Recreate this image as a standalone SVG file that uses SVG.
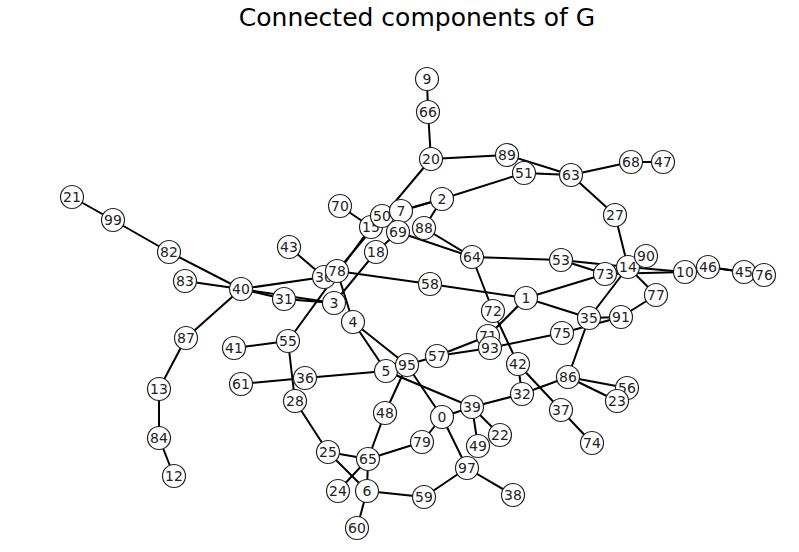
<svg xmlns="http://www.w3.org/2000/svg" width="799" height="552" viewBox="0 0 799 552">
<style>
.e line{stroke:#000;stroke-width:2;stroke-linecap:round}
.n text{font-family:"DejaVu Sans",sans-serif;font-size:14px;fill:#222;text-anchor:middle;dominant-baseline:central}
.t{font-family:"DejaVu Sans",sans-serif;font-size:25px;fill:#000;text-anchor:middle}
</style>
<rect width="799" height="552" fill="#fff"/>
<text class="t" x="417" y="26">Connected components of G</text>
<defs>
<circle id="c" r="11.5" fill="#fff" stroke="#222" stroke-width="1.2"/>
</defs>
<g id="edges" class="e">
<line x1="427" y1="79" x2="428" y2="112"/>
<line x1="428" y1="112" x2="431" y2="159"/>
<line x1="431" y1="159" x2="507" y2="155"/>
<line x1="507" y1="155" x2="571" y2="175"/>
<line x1="524" y1="173" x2="571" y2="175"/>
<line x1="524" y1="173" x2="442" y2="199"/>
<line x1="571" y1="175" x2="631" y2="162"/>
<line x1="631" y1="162" x2="663" y2="162"/>
<line x1="571" y1="175" x2="615" y2="215"/>
<line x1="615" y1="215" x2="628" y2="267"/>
<line x1="431" y1="159" x2="337" y2="271"/>
<line x1="382" y1="216" x2="442" y2="199"/>
<line x1="401" y1="211" x2="442" y2="199"/>
<line x1="442" y1="199" x2="424" y2="228"/>
<line x1="398" y1="232" x2="472" y2="257"/>
<line x1="424" y1="228" x2="472" y2="257"/>
<line x1="340" y1="206" x2="371" y2="227"/>
<line x1="288" y1="341" x2="371" y2="227"/>
<line x1="376" y1="252" x2="398" y2="232"/>
<line x1="376" y1="252" x2="334" y2="303"/>
<line x1="289" y1="247" x2="324" y2="277"/>
<line x1="241" y1="289" x2="324" y2="277"/>
<line x1="241" y1="289" x2="284" y2="299"/>
<line x1="284" y1="299" x2="334" y2="303"/>
<line x1="241" y1="289" x2="334" y2="303"/>
<line x1="72" y1="197" x2="113" y2="220"/>
<line x1="113" y1="220" x2="169" y2="252"/>
<line x1="169" y1="252" x2="241" y2="289"/>
<line x1="185" y1="281" x2="241" y2="289"/>
<line x1="241" y1="289" x2="186" y2="338"/>
<line x1="186" y1="338" x2="159" y2="389"/>
<line x1="159" y1="389" x2="159" y2="438"/>
<line x1="159" y1="438" x2="174" y2="476"/>
<line x1="337" y1="271" x2="353" y2="322"/>
<line x1="337" y1="271" x2="430" y2="284"/>
<line x1="430" y1="284" x2="526" y2="298"/>
<line x1="472" y1="257" x2="561" y2="260"/>
<line x1="472" y1="257" x2="493" y2="311"/>
<line x1="493" y1="311" x2="518" y2="364"/>
<line x1="526" y1="298" x2="488" y2="336"/>
<line x1="526" y1="298" x2="605" y2="274"/>
<line x1="526" y1="298" x2="589" y2="318"/>
<line x1="561" y1="260" x2="605" y2="274"/>
<line x1="561" y1="260" x2="628" y2="267"/>
<line x1="605" y1="274" x2="628" y2="267"/>
<line x1="646" y1="256" x2="628" y2="267"/>
<line x1="628" y1="267" x2="685" y2="272"/>
<line x1="605" y1="274" x2="685" y2="272"/>
<line x1="708" y1="267" x2="744" y2="272"/>
<line x1="708" y1="267" x2="764" y2="275"/>
<line x1="628" y1="267" x2="656" y2="295"/>
<line x1="628" y1="267" x2="589" y2="318"/>
<line x1="656" y1="295" x2="621" y2="317"/>
<line x1="589" y1="318" x2="621" y2="317"/>
<line x1="562" y1="333" x2="621" y2="317"/>
<line x1="490" y1="348" x2="562" y2="333"/>
<line x1="437" y1="356" x2="488" y2="336"/>
<line x1="437" y1="356" x2="490" y2="348"/>
<line x1="407" y1="365" x2="437" y2="356"/>
<line x1="353" y1="322" x2="386" y2="371"/>
<line x1="353" y1="322" x2="407" y2="365"/>
<line x1="386" y1="371" x2="305" y2="378"/>
<line x1="386" y1="371" x2="472" y2="407"/>
<line x1="407" y1="365" x2="442" y2="417"/>
<line x1="407" y1="365" x2="385" y2="413"/>
<line x1="385" y1="413" x2="368" y2="459"/>
<line x1="442" y1="417" x2="472" y2="407"/>
<line x1="442" y1="417" x2="422" y2="442"/>
<line x1="442" y1="417" x2="467" y2="468"/>
<line x1="472" y1="407" x2="522" y2="394"/>
<line x1="472" y1="407" x2="478" y2="446"/>
<line x1="472" y1="407" x2="500" y2="435"/>
<line x1="522" y1="394" x2="568" y2="377"/>
<line x1="518" y1="364" x2="522" y2="394"/>
<line x1="518" y1="364" x2="561" y2="410"/>
<line x1="561" y1="410" x2="592" y2="443"/>
<line x1="589" y1="318" x2="568" y2="377"/>
<line x1="568" y1="377" x2="627" y2="388"/>
<line x1="568" y1="377" x2="617" y2="401"/>
<line x1="234" y1="348" x2="288" y2="341"/>
<line x1="288" y1="341" x2="295" y2="401"/>
<line x1="241" y1="384" x2="305" y2="378"/>
<line x1="295" y1="401" x2="328" y2="452"/>
<line x1="328" y1="452" x2="368" y2="459"/>
<line x1="328" y1="452" x2="367" y2="491"/>
<line x1="338" y1="491" x2="368" y2="459"/>
<line x1="368" y1="459" x2="367" y2="491"/>
<line x1="368" y1="459" x2="422" y2="442"/>
<line x1="367" y1="491" x2="357" y2="528"/>
<line x1="367" y1="491" x2="424" y2="497"/>
<line x1="424" y1="497" x2="467" y2="468"/>
<line x1="467" y1="468" x2="513" y2="495"/>
</g>
<g class="n">
<g id="n9" transform="translate(427,79)"><use href="#c"/><text>9</text></g>
<g id="n66" transform="translate(428,112)"><use href="#c"/><text>66</text></g>
<g id="n20" transform="translate(431,159)"><use href="#c"/><text>20</text></g>
<g id="n89" transform="translate(507,155)"><use href="#c"/><text>89</text></g>
<g id="n51" transform="translate(524,173)"><use href="#c"/><text>51</text></g>
<g id="n63" transform="translate(571,175)"><use href="#c"/><text>63</text></g>
<g id="n68" transform="translate(631,162)"><use href="#c"/><text>68</text></g>
<g id="n47" transform="translate(663,162)"><use href="#c"/><text>47</text></g>
<g id="n27" transform="translate(615,215)"><use href="#c"/><text>27</text></g>
<g id="n2" transform="translate(442,199)"><use href="#c"/><text>2</text></g>
<g id="n70" transform="translate(340,206)"><use href="#c"/><text>70</text></g>
<g id="n15" transform="translate(371,227)"><use href="#c"/><text>15</text></g>
<g id="n50" transform="translate(382,216)"><use href="#c"/><text>50</text></g>
<g id="n7" transform="translate(401,211)"><use href="#c"/><text>7</text></g>
<g id="n69" transform="translate(398,232)"><use href="#c"/><text>69</text></g>
<g id="n88" transform="translate(424,228)"><use href="#c"/><text>88</text></g>
<g id="n18" transform="translate(376,252)"><use href="#c"/><text>18</text></g>
<g id="n43" transform="translate(289,247)"><use href="#c"/><text>43</text></g>
<g id="n30" transform="translate(324,277)"><use href="#c"/><text>30</text></g>
<g id="n78" transform="translate(337,271)"><use href="#c"/><text>78</text></g>
<g id="n64" transform="translate(472,257)"><use href="#c"/><text>64</text></g>
<g id="n53" transform="translate(561,260)"><use href="#c"/><text>53</text></g>
<g id="n73" transform="translate(605,274)"><use href="#c"/><text>73</text></g>
<g id="n14" transform="translate(628,267)"><use href="#c"/><text>14</text></g>
<g id="n90" transform="translate(646,256)"><use href="#c"/><text>90</text></g>
<g id="n10" transform="translate(685,272)"><use href="#c"/><text>10</text></g>
<g id="n46" transform="translate(708,267)"><use href="#c"/><text>46</text></g>
<g id="n45" transform="translate(744,272)"><use href="#c"/><text>45</text></g>
<g id="n76" transform="translate(764,275)"><use href="#c"/><text>76</text></g>
<g id="n21" transform="translate(72,197)"><use href="#c"/><text>21</text></g>
<g id="n99" transform="translate(113,220)"><use href="#c"/><text>99</text></g>
<g id="n82" transform="translate(169,252)"><use href="#c"/><text>82</text></g>
<g id="n83" transform="translate(185,281)"><use href="#c"/><text>83</text></g>
<g id="n40" transform="translate(241,289)"><use href="#c"/><text>40</text></g>
<g id="n31" transform="translate(284,299)"><use href="#c"/><text>31</text></g>
<g id="n3" transform="translate(334,303)"><use href="#c"/><text>3</text></g>
<g id="n58" transform="translate(430,284)"><use href="#c"/><text>58</text></g>
<g id="n1" transform="translate(526,298)"><use href="#c"/><text>1</text></g>
<g id="n72" transform="translate(493,311)"><use href="#c"/><text>72</text></g>
<g id="n77" transform="translate(656,295)"><use href="#c"/><text>77</text></g>
<g id="n35" transform="translate(589,318)"><use href="#c"/><text>35</text></g>
<g id="n91" transform="translate(621,317)"><use href="#c"/><text>91</text></g>
<g id="n4" transform="translate(353,322)"><use href="#c"/><text>4</text></g>
<g id="n87" transform="translate(186,338)"><use href="#c"/><text>87</text></g>
<g id="n41" transform="translate(234,348)"><use href="#c"/><text>41</text></g>
<g id="n55" transform="translate(288,341)"><use href="#c"/><text>55</text></g>
<g id="n71" transform="translate(488,336)"><use href="#c"/><text>71</text></g>
<g id="n93" transform="translate(490,348)"><use href="#c"/><text>93</text></g>
<g id="n75" transform="translate(562,333)"><use href="#c"/><text>75</text></g>
<g id="n57" transform="translate(437,356)"><use href="#c"/><text>57</text></g>
<g id="n5" transform="translate(386,371)"><use href="#c"/><text>5</text></g>
<g id="n95" transform="translate(407,365)"><use href="#c"/><text>95</text></g>
<g id="n42" transform="translate(518,364)"><use href="#c"/><text>42</text></g>
<g id="n36" transform="translate(305,378)"><use href="#c"/><text>36</text></g>
<g id="n61" transform="translate(241,384)"><use href="#c"/><text>61</text></g>
<g id="n86" transform="translate(568,377)"><use href="#c"/><text>86</text></g>
<g id="n56" transform="translate(627,388)"><use href="#c"/><text>56</text></g>
<g id="n23" transform="translate(617,401)"><use href="#c"/><text>23</text></g>
<g id="n13" transform="translate(159,389)"><use href="#c"/><text>13</text></g>
<g id="n28" transform="translate(295,401)"><use href="#c"/><text>28</text></g>
<g id="n32" transform="translate(522,394)"><use href="#c"/><text>32</text></g>
<g id="n39" transform="translate(472,407)"><use href="#c"/><text>39</text></g>
<g id="n37" transform="translate(561,410)"><use href="#c"/><text>37</text></g>
<g id="n48" transform="translate(385,413)"><use href="#c"/><text>48</text></g>
<g id="n0" transform="translate(442,417)"><use href="#c"/><text>0</text></g>
<g id="n22" transform="translate(500,435)"><use href="#c"/><text>22</text></g>
<g id="n79" transform="translate(422,442)"><use href="#c"/><text>79</text></g>
<g id="n84" transform="translate(159,438)"><use href="#c"/><text>84</text></g>
<g id="n74" transform="translate(592,443)"><use href="#c"/><text>74</text></g>
<g id="n49" transform="translate(478,446)"><use href="#c"/><text>49</text></g>
<g id="n25" transform="translate(328,452)"><use href="#c"/><text>25</text></g>
<g id="n65" transform="translate(368,459)"><use href="#c"/><text>65</text></g>
<g id="n97" transform="translate(467,468)"><use href="#c"/><text>97</text></g>
<g id="n12" transform="translate(174,476)"><use href="#c"/><text>12</text></g>
<g id="n24" transform="translate(338,491)"><use href="#c"/><text>24</text></g>
<g id="n6" transform="translate(367,491)"><use href="#c"/><text>6</text></g>
<g id="n59" transform="translate(424,497)"><use href="#c"/><text>59</text></g>
<g id="n38" transform="translate(513,495)"><use href="#c"/><text>38</text></g>
<g id="n60" transform="translate(357,528)"><use href="#c"/><text>60</text></g>
</g>
</svg>
